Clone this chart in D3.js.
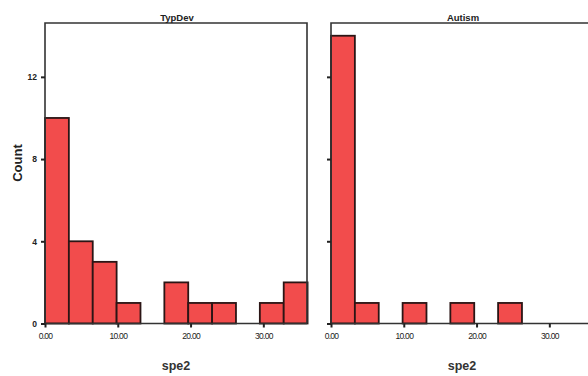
<!DOCTYPE html>
<html>
<head>
<meta charset="utf-8">
<script src="https://cdn.jsdelivr.net/npm/d3@7"></script>
<style>
  body { margin: 0; background: #ffffff; }
  svg { display: block; }
</style>
</head>
<body>
<script>
// histogram of spe2, one panel per group
var groups = ["TypDev", "Autism"];
var typDevCounts = [10, 4, 3, 1, 0, 2, 1, 1, 0, 1, 2];
var autismCounts = [14, 1, 0, 1, 0, 1, 0, 1, 0, 0, 0];
var binWidth = 3.28;
var xTicks = [0, 10, 20, 30];
var xTickLabels = ["0.00", "10.00", "20.00", "30.00"];
var yTicks = [0, 4, 8, 12];

var canvas_width = 588;
var canvas_height = 376;

var svg = d3.select("body")
    .append("svg")
    .attr("width", canvas_width)
    .attr("height", canvas_height);

var y = d3.scaleLinear()
    .domain([0, 14.62])
    .range([323.5, 23]);

var panels = [
  { name: groups[0], counts: typDevCounts, left: 45, showY: true },
  { name: groups[1], counts: autismCounts, left: 331, showY: false }
];

panels.forEach(function(p) {
  var x = d3.scaleLinear()
      .domain([0, 36.0])
      .range([p.left, p.left + 262]);

  var g = svg.append("g");

  // bars
  g.selectAll("rect.bar")
    .data(p.counts.map(function(c, i) { return { i: i, c: c }; })
                  .filter(function(d) { return d.c > 0; }))
    .enter()
    .append("rect")
    .attr("class", "bar")
    .attr("x", function(d) { return x(d.i * binWidth); })
    .attr("width", function(d) { return x((d.i + 1) * binWidth) - x(d.i * binWidth); })
    .attr("y", function(d) { return y(d.c); })
    .attr("height", function(d) { return y(0) - y(d.c); })
    .attr("fill", "#f24c4c")
    .attr("stroke", "#2b1515")
    .attr("stroke-width", 1.8);

  // frame: left, top, right
  g.append("path")
    .attr("d", "M" + x(0) + "," + y(0) + "V" + y.range()[1] + "H" + x(36.0) + "V" + y(0))
    .attr("fill", "none")
    .attr("stroke", "#333")
    .attr("stroke-width", 1.6);

  // x axis
  var xAxis = d3.axisBottom(x)
      .tickValues(xTicks)
      .tickSize(4)
      .tickFormat(function(d, i) { return xTickLabels[i]; });

  var xa = g.append("g")
    .attr("transform", "translate(0," + y(0) + ")")
    .call(xAxis);
  xa.select(".domain").attr("stroke", "#333").attr("stroke-width", 1.6)
    .attr("d", "M" + x(0) + ",0H" + x(36.0));
  xa.selectAll(".tick line").attr("stroke", "#222").attr("stroke-width", 2);
  xa.selectAll(".tick text")
    .attr("dy", "1.05em")
    .attr("font-family", "Liberation Sans, Arial, sans-serif")
    .attr("font-size", "8.5px")
    .attr("letter-spacing", "-0.7px")
    .attr("fill", "#222");

  // y axis (labels only on the first panel)
  var yAxis = d3.axisLeft(y)
      .tickValues(yTicks)
      .tickSize(4)
      .tickPadding(4)
      .tickFormat(p.showY ? d3.format("d") : "");

  var ya = g.append("g")
    .attr("transform", "translate(" + x(0) + ",0)")
    .call(yAxis);
  ya.select(".domain").remove();
  ya.selectAll(".tick line").attr("stroke", "#222").attr("stroke-width", 2);
  ya.selectAll(".tick text")
    .attr("font-family", "Liberation Sans, Arial, sans-serif")
    .attr("font-size", "8.5px")
    .attr("font-weight", "bold")
    .attr("fill", "#222");

  // panel title
  g.append("text")
    .attr("x", (x(0) + x(36.0)) / 2 + 1)
    .attr("y", 21)
    .attr("text-anchor", "middle")
    .text(p.name)
    .attr("font-family", "Liberation Sans, Arial, sans-serif")
    .attr("font-size", "9.5px")
    .attr("font-weight", "bold")
    .attr("fill", "#222");

  // x title
  g.append("text")
    .attr("x", (x(0) + x(36.0)) / 2)
    .attr("y", 370)
    .attr("text-anchor", "middle")
    .text("spe2")
    .attr("font-family", "Liberation Sans, Arial, sans-serif")
    .attr("font-size", "12.5px")
    .attr("font-weight", "bold")
    .attr("fill", "#333");
});

svg.append("text")
  .attr("transform", "translate(22,163) rotate(-90)")
  .attr("text-anchor", "middle")
  .text("Count")
  .attr("font-family", "Liberation Sans, Arial, sans-serif")
  .attr("font-size", "13px")
  .attr("font-weight", "bold")
  .attr("fill", "#222");
</script>
</body>
</html>
